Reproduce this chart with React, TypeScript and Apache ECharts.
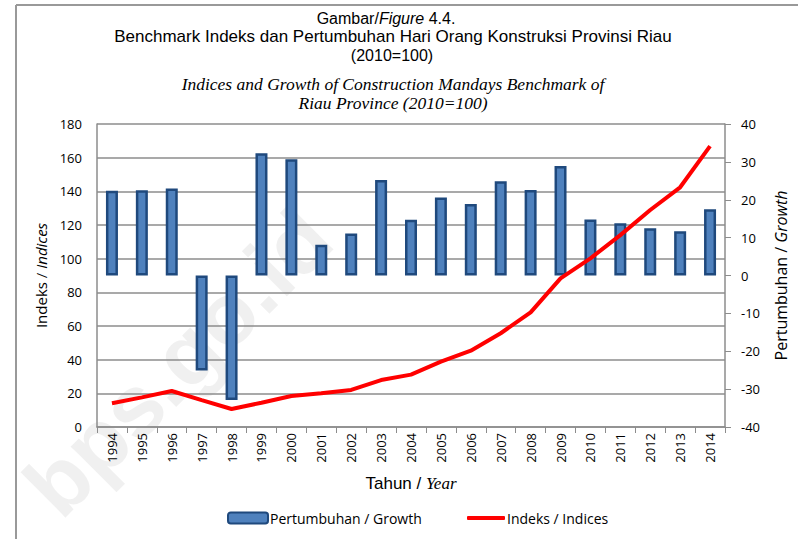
import React, { useEffect, useRef } from "react";
import * as echarts from "echarts";

const years = ["1994","1995","1996","1997","1998","1999","2000","2001","2002","2003","2004","2005","2006","2007","2008","2009","2010","2011","2012","2013","2014"];
const growth = [22.4, 22.5, 23.0, -25.1, -32.9, 32.3, 30.7, 8.1, 11.1, 25.2, 14.7, 20.6, 18.9, 24.9, 22.6, 28.9, 14.8, 13.8, 12.5, 11.7, 17.5];
const indices = [14.1, 17.6, 21.4, 16.0, 10.7, 14.4, 18.4, 20.0, 22.0, 27.9, 31.1, 38.8, 45.3, 55.7, 68.1, 88.3, 100.2, 114.0, 128.9, 142.4, 166.9];
const leftTicks = { min: 0, max: 180, interval: 20 };
const rightTicks = { min: -40, max: 40, interval: 10 };

const SANS = "'Liberation Sans Narrow', 'Liberation Sans', Arial, sans-serif";
const SERIF = "'Liberation Serif', 'Times New Roman', serif";
const LBL = "'Open Sans', 'Noto Sans', sans-serif";

export default function App() {
  const ref = useRef<HTMLDivElement>(null);
  useEffect(() => {
    document.body.style.margin = "0";
    if (!ref.current) return;
    const chart = echarts.init(ref.current, null, { renderer: "svg" });
    const gridColor = "#8c8c8c";
    chart.setOption({
      animation: false,
      backgroundColor: "#fff",
      graphic: [
        { type: "line", shape: { x1: 16, y1: 5, x2: 798, y2: 5 }, style: { stroke: "#999", lineWidth: 2 } },
        { type: "line", shape: { x1: 16, y1: 5, x2: 16, y2: 539 }, style: { stroke: "#999", lineWidth: 2 } },
        {
          type: "text", x: 178, y: 362, rotation: Math.PI / 4, z: -10,
          style: { text: "bps.go.id", fill: "rgba(0,0,0,0.06)", font: "bold 88px 'Liberation Sans', Arial, sans-serif", align: "center", verticalAlign: "middle" },
        },
        {
          type: "text", x: 386, y: 18,
          style: {
            text: "{a|Gambar/}{b|Figure}{a| 4.4.}", align: "center", verticalAlign: "middle",
            rich: {
              a: { fontFamily: SANS, fontSize: 16, fill: "#000" },
              b: { fontFamily: SANS, fontSize: 16, fontStyle: "italic", fill: "#000" },
            },
          },
        },
        { type: "text", x: 393, y: 36, style: { text: "Benchmark Indeks dan Pertumbuhan Hari Orang Konstruksi Provinsi Riau", align: "center", verticalAlign: "middle", font: "17px " + SANS, fill: "#000" } },
        { type: "text", x: 392, y: 55, style: { text: "(2010=100)", align: "center", verticalAlign: "middle", font: "16px " + SANS, fill: "#000" } },
        { type: "text", x: 393, y: 84, style: { text: "Indices and Growth of Construction Mandays Benchmark of", align: "center", verticalAlign: "middle", font: "italic 17.5px " + SERIF, fill: "#000" } },
        { type: "text", x: 393, y: 103, style: { text: "Riau Province (2010=100)", align: "center", verticalAlign: "middle", font: "italic 17.5px " + SERIF, fill: "#000" } },
      ],
      grid: { left: 97, right: 73, top: 124, bottom: 112, containLabel: false },
      legend: [
        {
          left: 222, top: 506, itemWidth: 40, itemHeight: 11,
          textStyle: { fontFamily: LBL, fontSize: 14, color: "#000", padding: [0, 0, 0, -3] },
          data: [{ name: "Pertumbuhan / Growth", icon: "roundRect" }],
        },
        {
          left: 462, top: 506, itemWidth: 38, itemHeight: 4,
          textStyle: { fontFamily: LBL, fontSize: 14, color: "#000", padding: [0, 0, 0, -3] },
          data: [{ name: "Indeks / Indices", icon: "roundRect", itemStyle: { color: "#FF0000" } }],
        },
      ],
      xAxis: {
        type: "category", data: years, boundaryGap: true,
        name: "Tahun / {i|Year}", nameLocation: "middle", nameGap: 48,
        nameTextStyle: { fontFamily: SANS, fontSize: 17, color: "#000", rich: { i: { fontFamily: SERIF, fontStyle: "italic", fontSize: 17, color: "#000" } } },
        axisLine: { lineStyle: { color: gridColor, width: 1.5 } },
        axisTick: { show: true, alignWithLabel: false, length: 6, lineStyle: { color: gridColor } },
        axisLabel: { rotate: 90, fontFamily: LBL, fontSize: 13, color: "#000", margin: 6 },
      },
      yAxis: [
        {
          type: "value", ...leftTicks, position: "left",
          name: "Indeks / {i|Indices}", nameLocation: "middle", nameGap: 46, nameRotate: 90,
          nameTextStyle: { fontFamily: LBL, fontSize: 15, color: "#000", rich: { i: { fontFamily: LBL, fontStyle: "italic", fontSize: 15, color: "#000" } } },
          axisLine: { show: true, lineStyle: { color: gridColor, width: 1.5 } },
          axisTick: { show: false },
          axisLabel: { fontFamily: LBL, fontSize: 13, color: "#000", margin: 15 },
          splitLine: { show: true, lineStyle: { color: gridColor, width: 1.5 } },
        },
        {
          type: "value", ...rightTicks, position: "right",
          name: "Pertumbuhan / {i|Growth}", nameLocation: "middle", nameGap: 48, nameRotate: 90,
          nameTextStyle: { fontFamily: LBL, fontSize: 16, color: "#000", rich: { i: { fontFamily: LBL, fontStyle: "italic", fontSize: 16, color: "#000" } } },
          axisLine: { show: true, lineStyle: { color: gridColor, width: 1.5 } },
          axisTick: { show: true, length: 6, lineStyle: { color: gridColor } },
          axisLabel: { fontFamily: LBL, fontSize: 13, color: "#000", margin: 16 },
          splitLine: { show: false },
        },
      ],
      series: [
        {
          name: "Pertumbuhan / Growth", type: "bar", yAxisIndex: 1, data: growth, barWidth: 12,
          itemStyle: { color: "#4F81BD", borderColor: "#1F497D", borderWidth: 2.5 },
        },
        {
          name: "Indeks / Indices", type: "line", yAxisIndex: 0, data: indices, symbol: "none",
          lineStyle: { color: "#FF0000", width: 4 }, itemStyle: { color: "#FF0000" }, z: 5,
        },
      ],
    });
    return () => chart.dispose();
  }, []);
  return <div ref={ref} style={{ width: 798, height: 539 }} />;
}
